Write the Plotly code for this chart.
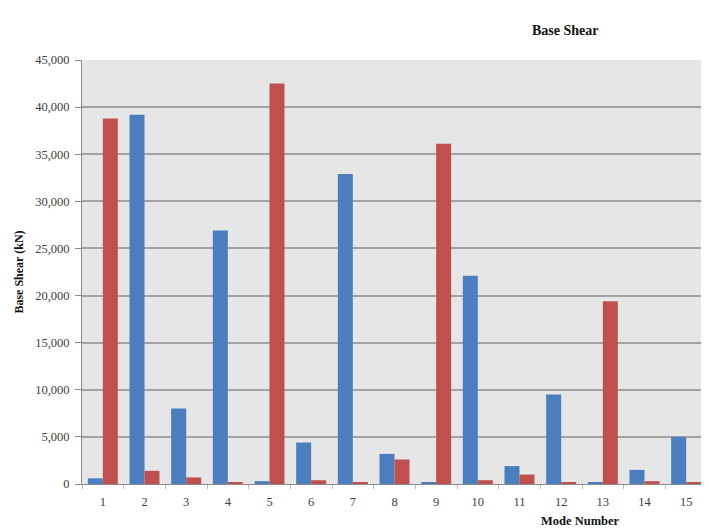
import plotly.graph_objects as go

modes = [str(i) for i in range(1, 16)]
series_a = [600, 39200, 8000, 26900, 300, 4400, 32900, 3200, 200, 22100, 1900, 9500, 200, 1500, 5000]
series_b = [38800, 1400, 700, 200, 42500, 400, 200, 2600, 36100, 400, 1000, 200, 19400, 300, 200]
y_ticks = [0, 5000, 10000, 15000, 20000, 25000, 30000, 35000, 40000, 45000]
y_labels = ["0", "5,000", "10,000", "15,000", "20,000", "25,000", "30,000", "35,000", "40,000", "45,000"]

font = "Liberation Serif, Times New Roman, serif"

fig = go.Figure()
fig.add_bar(x=modes, y=series_a, marker=dict(color="#4A7EBF", line=dict(width=0)), name="X")
fig.add_bar(x=modes, y=series_b, marker=dict(color="#C0504D", line=dict(width=0)), name="Y")

fig.update_layout(
    width=701, height=522,
    margin=dict(l=74, r=2, t=52, b=46),
    paper_bgcolor="white",
    plot_bgcolor="#E6E6E6",
    barmode="group",
    bargap=0.28,
    bargroupgap=0,
    showlegend=False,
    font=dict(family=font, size=12.5, color="#404040"),
    title=dict(text="<b>Base Shear</b>", x=0.795, xanchor="center", y=0.958, yanchor="middle",
               font=dict(family=font, size=14, color="#111111")),
)
fig.update_yaxes(
    range=[0, 45000], tickvals=y_ticks, ticktext=y_labels,
    showgrid=True, gridcolor="#A3A3A3", gridwidth=2,
    showline=True, linecolor="#8C8C8C", linewidth=1,
    ticks="outside", ticklen=6, tickcolor="#8C8C8C",
    ticklabelstandoff=3,
    zeroline=False,
    title=dict(text="<b>Base Shear (kN)</b>", font=dict(family=font, size=12, color="#111111"), standoff=8),
)
fig.update_xaxes(
    showline=True, linecolor="#8C8C8C", linewidth=1,
    ticks="outside", ticklen=4, tickcolor="#BBBBBB", tickson="boundaries",
    ticklabelstandoff=6,
    showgrid=False,
)
fig.add_annotation(text="<b>Mode Number</b>", xref="paper", yref="paper", x=0.797, y=0,
                   yshift=-37, showarrow=False, xanchor="center", yanchor="middle",
                   font=dict(family=font, size=12.5, color="#111111"))

fig.write_html("out.html")
